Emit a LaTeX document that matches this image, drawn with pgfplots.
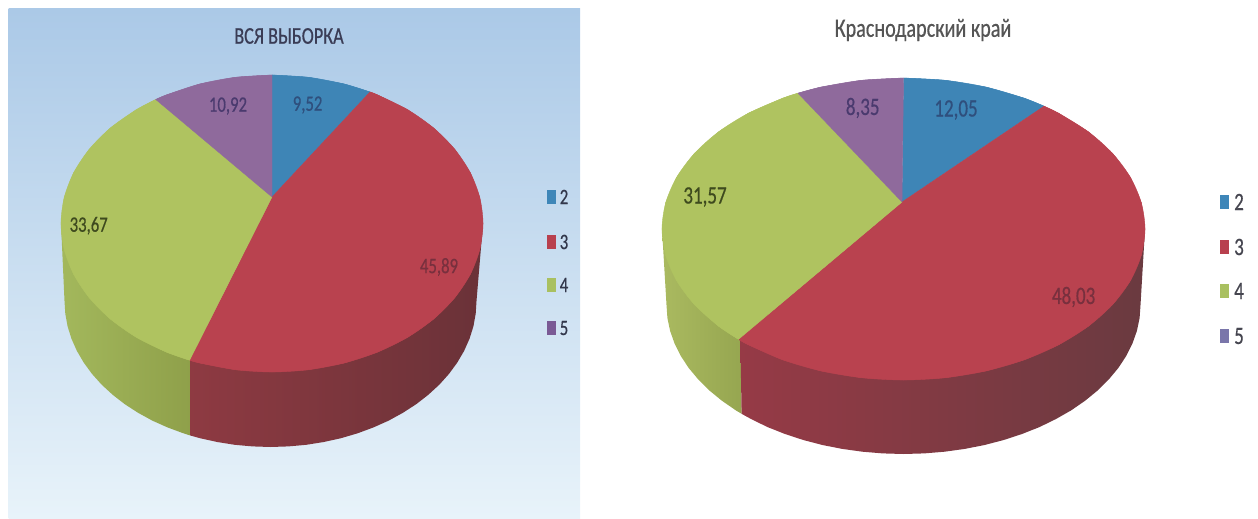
\documentclass[border=0pt]{standalone}
\usepackage{pgfplots}
\pgfplotsset{compat=1.18}
\usepackage{fontspec}
\setmainfont{Carlito}[FakeStretch=0.76,FakeBold=0.5]
\definecolor{cblue}{HTML}{3E85B6}
\definecolor{cred}{HTML}{B9424F}
\definecolor{cgreen}{HTML}{AFC360}
\definecolor{cpurple}{HTML}{8F6A9C}
\definecolor{lblue}{HTML}{3E86B8}
\definecolor{lred}{HTML}{B8404E}
\definecolor{lgreen}{HTML}{A9C060}
\definecolor{lpurple}{HTML}{7A5A95}
\definecolor{lpurpleb}{HTML}{7A76AA}
\definecolor{bgtop}{RGB}{171,201,231}
\definecolor{bgmid}{RGB}{200,222,243}
\definecolor{bgbot}{RGB}{232,243,250}
\definecolor{sgl1}{RGB}{163,184,92}
\definecolor{sgl2}{RGB}{143,160,74}
\definecolor{srl1}{RGB}{142,58,66}
\definecolor{srl2}{RGB}{106,50,56}
\definecolor{sgr1}{RGB}{170,186,96}
\definecolor{sgr2}{RGB}{150,166,80}
\definecolor{srr1}{RGB}{150,58,70}
\definecolor{srr2}{RGB}{106,58,64}
\definecolor{ttl}{RGB}{58,60,85}
\definecolor{ttr}{RGB}{85,85,85}
\definecolor{tp}{RGB}{74,58,110}
\definecolor{tb}{RGB}{47,79,125}
\definecolor{tg}{RGB}{62,74,30}
\definecolor{tr}{RGB}{120,48,62}
\definecolor{tll}{RGB}{50,55,75}
\definecolor{tlr}{RGB}{70,70,80}
\tikzset{
  lab/.style={font=\fontsize{22}{22}\selectfont, anchor=center, inner sep=0pt},
  labr/.style={font=\fontsize{25}{25}\selectfont, anchor=center, inner sep=0pt},
  face/.style={draw=#1, line width=0.4pt, mark=none, fill=#1},
  arc/.style={draw=#1, line width=0.4pt, mark=none, fill=#1, smooth},
  leg/.style={draw=none, mark=none, fill=#1},
}
\begin{document}
\begin{tikzpicture}
\begin{axis}[
  scale only axis, width=1258pt, height=519pt,
  xmin=0, xmax=1258, ymin=0, ymax=519, y dir=reverse,
  hide axis, clip=false,
]
% page frame (invisible)
\addplot[draw=none, mark=none] coordinates {(0,0) (1258,519)};
% background panel
\addplot[draw=none, mark=none, top color=bgtop, middle color=bgmid, bottom color=bgbot] coordinates {(8.5,9) (580,9) (580,519) (8.5,519)};

% ---- left pie: sides
\addplot[draw=none, mark=none, left color=sgl1, right color=sgl2] coordinates {
(190,340) (61,223.5) (64.5,301) (65.3,313.7) (67.6,326.4) (71.5,338.8) (76.9,350.9) (83.8,362.7) (92.1,374) (101.7,384.7) (112.7,394.8) (124.8,404.2) (138.1,412.8) (152.3,420.6) (167.5,427.4) (183.4,433.3) (190,435.4)};
\addplot[draw=none, mark=none, left color=srl1, right color=srl2] coordinates {
(190,340) (483,223.5) (476.5,301) (475.7,313.7) (473.4,326.4) (469.5,338.8) (464.1,350.9) (457.2,362.7) (448.9,374) (439.3,384.7) (428.3,394.8) (416.2,404.2) (402.9,412.8) (388.7,420.6) (373.5,427.4) (357.6,433.3) (341,438.2) (323.8,442) (306.3,444.8) (288.5,446.4) (270.5,447) (252.5,446.4) (234.7,444.8) (217.2,442) (200,438.2) (190,435.4)};
% left pie: top faces
\addplot[face=cblue] coordinates {(272,197) (272,75) (308.6,77.3) (344.2,84) (370,92) (272,197)};
\addplot[arc=cblue] coordinates {(272,75) (308.6,77.3) (344.2,84) (370,92)};
\addplot[face=cred] coordinates {(272,197) (370,92) (377.5,94.9) (407.6,109.7) (433.6,128) (454.7,149.25) (470.3,172.7) (479.8,197.7) (483,223.5) (479.8,249.3) (470.3,274.3) (454.7,297.75) (433.6,319) (407.6,337.3) (377.5,352.1) (344.2,363) (308.6,369.7) (272,372) (235.4,369.7) (199.8,363) (189.6,360.2) (272,197)};
\addplot[arc=cred] coordinates {(370,92) (377.5,94.9) (407.6,109.7) (433.6,128) (454.7,149.25) (470.3,172.7) (479.8,197.7) (483,223.5) (479.8,249.3) (470.3,274.3) (454.7,297.75) (433.6,319) (407.6,337.3) (377.5,352.1) (344.2,363) (308.6,369.7) (272,372) (235.4,369.7) (199.8,363) (189.6,360.2)};
\addplot[face=cgreen] coordinates {(272,197) (189.6,360.2) (166.5,352.1) (136.4,337.3) (110.4,319) (89.3,297.75) (73.7,274.3) (64.2,249.3) (61,223.5) (64.2,197.7) (73.7,172.7) (89.3,149.25) (110.4,128) (136.4,109.7) (155.8,99.5) (272,197)};
\addplot[arc=cgreen] coordinates {(189.6,360.2) (166.5,352.1) (136.4,337.3) (110.4,319) (89.3,297.75) (73.7,274.3) (64.2,249.3) (61,223.5) (64.2,197.7) (73.7,172.7) (89.3,149.25) (110.4,128) (136.4,109.7) (155.8,99.5)};
\addplot[face=cpurple] coordinates {(272,197) (155.8,99.5) (166.5,94.9) (199.8,84) (235.4,77.3) (272,75) (272,197)};
\addplot[arc=cpurple] coordinates {(155.8,99.5) (166.5,94.9) (199.8,84) (235.4,77.3) (272,75)};

% ---- right pie: sides
\addplot[draw=none, mark=none, left color=sgr1, right color=sgr2] coordinates {
(740,320) (662,229) (666.5,305) (667.4,318) (670.1,330.9) (674.6,343.6) (680.8,356) (688.7,368) (698.3,379.5) (709.4,390.5) (722,400.8) (735.9,410.4) (741.6,413.8)};
\addplot[draw=none, mark=none, left color=srr1, right color=srr2] coordinates {
(740,320) (1145,229) (1140.5,305) (1139.6,318) (1136.9,330.9) (1132.4,343.6) (1126.2,356) (1118.3,368) (1108.7,379.5) (1097.6,390.5) (1085,400.8) (1071.1,410.4) (1055.8,419.1) (1039.4,427.1) (1022,434) (1003.7,440) (984.6,445) (964.8,448.9) (944.6,451.7) (924.2,453.4) (903.5,454) (882.8,453.4) (862.4,451.7) (842.2,448.9) (822.4,445) (803.3,440) (785,434) (767.6,427.1) (751.2,419.1) (741.6,413.8)};
% right pie: top faces
\addplot[face=cblue] coordinates {(902,202) (903.5,78) (945.4,80.3) (986.1,87.1) (1024.25,98.2) (1044,106.2) (902,202)};
\addplot[arc=cblue] coordinates {(903.5,78) (945.4,80.3) (986.1,87.1) (1024.25,98.2) (1044,106.2)};
\addplot[face=cred] coordinates {(902,202) (1044,106.2) (1058.7,113.3) (1088.5,131.9) (1112.6,153.5) (1130.4,177.4) (1141.3,202.8) (1145,229) (1141.3,255.2) (1130.4,280.6) (1112.6,304.5) (1088.5,326.1) (1058.7,344.7) (1024.25,359.8) (986.1,370.9) (945.4,377.7) (903.5,380) (861.6,377.7) (820.9,370.9) (782.75,359.8) (748.3,344.7) (738.5,339.3) (902,202)};
\addplot[arc=cred] coordinates {(1044,106.2) (1058.7,113.3) (1088.5,131.9) (1112.6,153.5) (1130.4,177.4) (1141.3,202.8) (1145,229) (1141.3,255.2) (1130.4,280.6) (1112.6,304.5) (1088.5,326.1) (1058.7,344.7) (1024.25,359.8) (986.1,370.9) (945.4,377.7) (903.5,380) (861.6,377.7) (820.9,370.9) (782.75,359.8) (748.3,344.7) (738.5,339.3)};
\addplot[face=cgreen] coordinates {(902,202) (738.5,339.3) (718.5,326.1) (694.4,304.5) (676.6,280.6) (665.7,255.2) (662,229) (665.7,202.8) (676.6,177.4) (694.4,153.5) (718.5,131.9) (748.3,113.3) (782.75,98.2) (798,93.2) (902,202)};
\addplot[arc=cgreen] coordinates {(738.5,339.3) (718.5,326.1) (694.4,304.5) (676.6,280.6) (665.7,255.2) (662,229) (665.7,202.8) (676.6,177.4) (694.4,153.5) (718.5,131.9) (748.3,113.3) (782.75,98.2) (798,93.2)};
\addplot[face=cpurple] coordinates {(902,202) (798,93.2) (820.9,87.1) (861.6,80.3) (903.5,78) (902,202)};
\addplot[arc=cpurple] coordinates {(798,93.2) (820.9,87.1) (861.6,80.3) (903.5,78)};

% legends
\addplot[leg=lblue] coordinates {(547,190) (556,190) (556,204) (547,204)};
\addplot[leg=lred] coordinates {(547,235) (556,235) (556,249) (547,249)};
\addplot[leg=lgreen] coordinates {(547,278) (556,278) (556,292) (547,292)};
\addplot[leg=lpurple] coordinates {(547,321) (556,321) (556,335) (547,335)};
\addplot[leg=lblue] coordinates {(1220,195) (1229,195) (1229,209) (1220,209)};
\addplot[leg=lred] coordinates {(1220,240) (1229,240) (1229,254) (1220,254)};
\addplot[leg=lgreen] coordinates {(1220,284) (1229,284) (1229,298) (1220,298)};
\addplot[leg=lpurpleb] coordinates {(1220,329) (1229,329) (1229,343) (1220,343)};

% texts
\node[lab, text=ttl, font=\fontsize{24}{24}\selectfont] at (axis cs:289,36) {ВСЯ ВЫБОРКА};
\node[lab, text=ttr, font=\fontsize{26.5}{26.5}\selectfont] at (axis cs:923,30) {Краснодарский край};
\node[lab, text=tp] at (axis cs:228,106) {10,92};
\node[lab, text=tb] at (axis cs:307.6,105) {9,52};
\node[lab, text=tg] at (axis cs:88.7,225.7) {33,67};
\node[lab, text=tr] at (axis cs:439,267) {45,89};
\node[labr, text=tp] at (axis cs:862.7,108) {8,35};
\node[labr, text=tb] at (axis cs:956,110) {12,05};
\node[labr, text=tg] at (axis cs:705,197) {31,57};
\node[labr, text=tr] at (axis cs:1073.6,297) {48,03};
\node[lab, text=tll] at (axis cs:564,197) {2};
\node[lab, text=tll] at (axis cs:564,242) {3};
\node[lab, text=tll] at (axis cs:564,285) {4};
\node[lab, text=tll] at (axis cs:564,328) {5};
\node[labr, text=tlr] at (axis cs:1239,202) {2};
\node[labr, text=tlr] at (axis cs:1239,247) {3};
\node[labr, text=tlr] at (axis cs:1239,291) {4};
\node[labr, text=tlr] at (axis cs:1239,336) {5};
\end{axis}
\end{tikzpicture}
\end{document}
